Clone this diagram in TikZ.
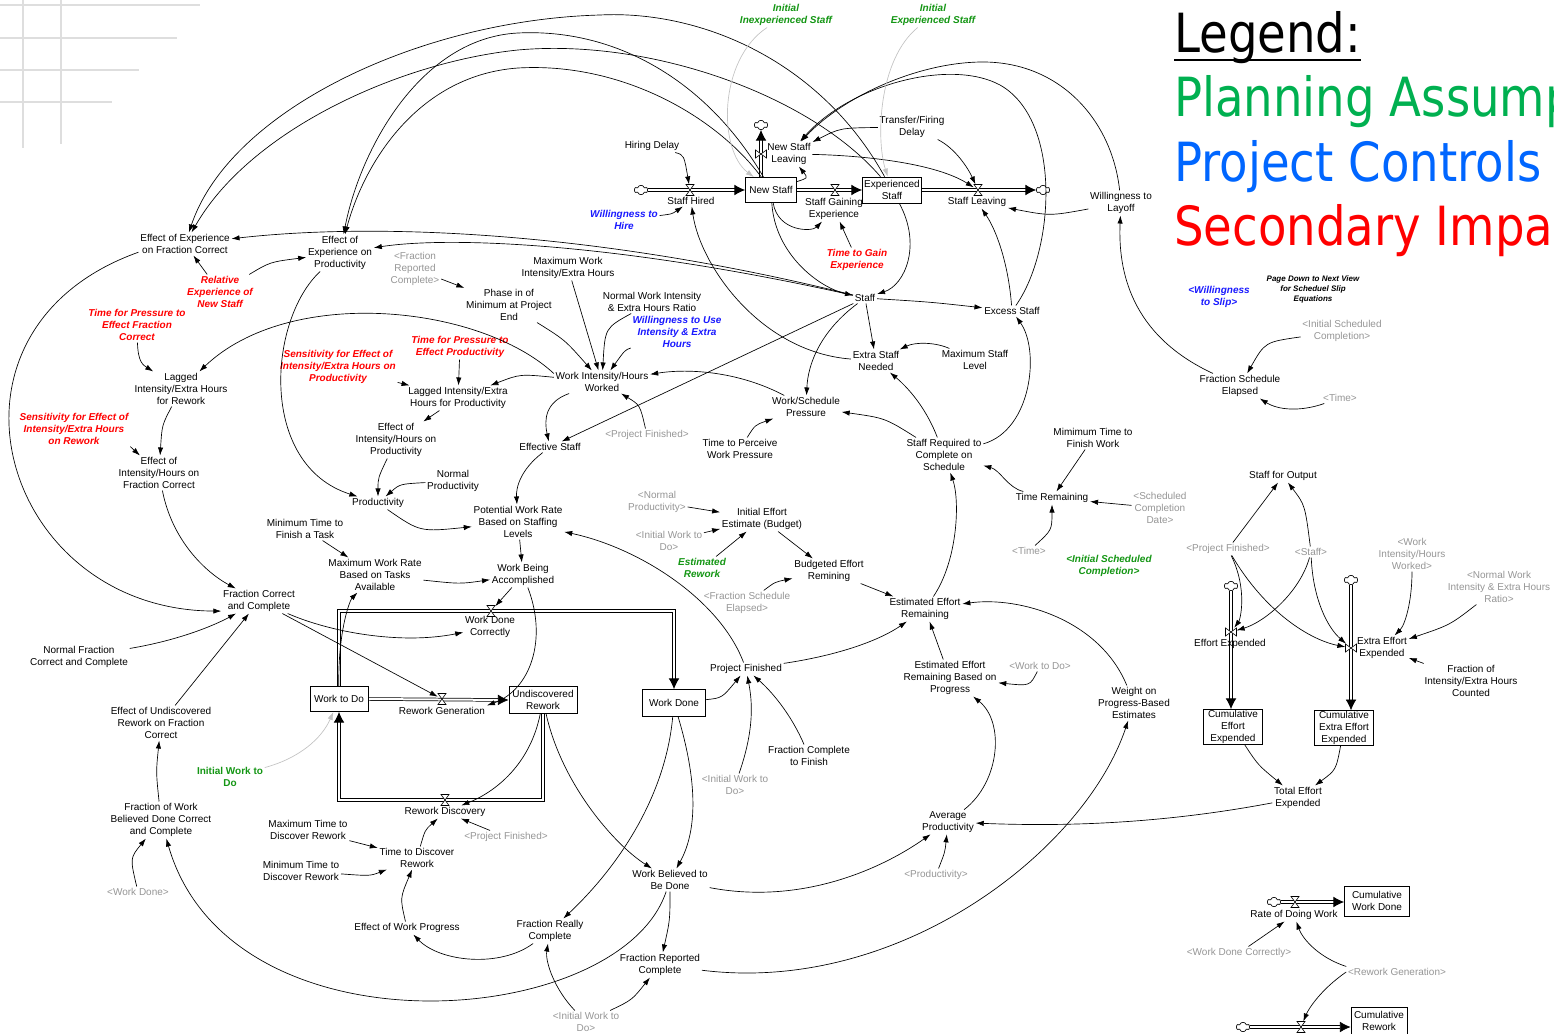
\documentclass[tikz,border=0pt]{standalone}
\usepackage{fontspec}
\usepackage{graphicx}
\setmainfont{Liberation Sans}
\newfontfamily\legfont{DejaVu Sans}
\usetikzlibrary{arrows.meta,shapes.symbols}
\definecolor{vred}{RGB}{255,0,0}
\definecolor{vblue}{RGB}{25,25,255}
\definecolor{vgreen}{RGB}{20,150,20}
\definecolor{vgray}{RGB}{150,150,150}
\definecolor{lgray}{RGB}{195,195,195}
\definecolor{gridgray}{RGB}{222,222,222}
\definecolor{leggreen}{RGB}{0,176,80}
\definecolor{legblue}{RGB}{0,102,255}
\newcommand\vnfont{\fontsize{7.5pt}{9pt}\selectfont}
\newcommand\vnsmall{\fontsize{6pt}{7.5pt}\selectfont}
\newcommand\lgfont{\legfont\fontsize{40.5pt}{48pt}\selectfont}
\tikzset{
 hvalve/.pic={\draw[fill=white,line width=0.45pt] (-4,-5.5)--(4,-5.5)--(-4,5.5)--(4,5.5)--cycle;},
 vvalve/.pic={\draw[fill=white,line width=0.45pt] (-5.5,-4)--(-5.5,4)--(5.5,-4)--(5.5,4)--cycle;}
}
\begin{document}
\begin{tikzpicture}[x=0.75pt,y=-0.75pt,
 var/.style={align=center,inner sep=1.2pt,font=\vnfont},
 shv/.style={var,text=vgray},
 redv/.style={var,text=vred,font=\vnfont\bfseries\itshape},
 bluv/.style={var,text=vblue,font=\vnfont\bfseries\itshape},
 grnv/.style={var,text=vgreen,font=\vnfont\bfseries\itshape},
 stock/.style={draw,line width=0.6pt,fill=white,align=center,inner sep=0.5pt,font=\vnfont},
 vnode/.style={inner sep=0pt,minimum width=6pt,minimum height=8pt},
 vvnode/.style={inner sep=0pt,minimum width=8pt,minimum height=6pt},
 arr/.style={draw,line width=0.5pt,-{Latex[length=6pt,width=4pt]}},
 garr/.style={arr,draw=lgray},
 flow/.style={draw,double,double distance=1.5pt,line width=0.55pt,-{Latex[length=8pt,width=8pt]}},
 cld/.style={cloud,cloud puffs=6,draw,fill=white,line width=0.4pt,minimum width=10pt,minimum height=7pt,inner sep=0pt}
]
\fill[white] (0,0) rectangle (1554,1034);
\useasboundingbox (0,0) rectangle (1554,1034);
% decoration grid
\draw[gridgray,line width=1.5pt] (0,5)--(200,5) (0,38)--(177,38) (0,70)--(139,70) (0,102)--(112,102) (23,0)--(23,148) (61,0)--(61,144);

% legend
\begin{scope}
\clip (1100,0) rectangle (1554,270);
\node[anchor=base west,inner sep=0pt,font=\lgfont] (legT) at (1174,53) {\scalebox{0.863}[1]{Legend:}};
\draw[line width=1.6pt] ([yshift=-5.2pt]legT.base west) -- ([yshift=-5.2pt]legT.base east);
\node[anchor=base west,inner sep=0pt,font=\lgfont,text=leggreen] (legA) at (1174,117) {\scalebox{0.863}[1]{Planning Assump}};
\node[anchor=base west,inner sep=0pt,font=\lgfont,text=legblue] (legB) at (1174,182) {\scalebox{0.863}[1]{Project Controls}};
\node[anchor=base west,inner sep=0pt,font=\lgfont,text=vred] (legC) at (1174,246) {\scalebox{0.863}[1]{Secondary Impa}};
\end{scope}

% ---------- stocks ----------
\node[stock,minimum width=38.3pt,minimum height=18.8pt] (ns) at (771,190) {New Staff};
\node[stock,minimum width=44.3pt,minimum height=19.5pt] (exs) at (892,190) {Experienced\\Staff};
\node[stock,minimum width=43.5pt,minimum height=18.8pt] (wtd) at (339,699) {Work to Do};
\node[stock,minimum width=51pt,minimum height=20.3pt] (ur) at (543,700) {Undiscovered\\Rework};
\node[stock,minimum width=47.3pt,minimum height=20.3pt] (wd) at (674,703) {Work Done};
\node[stock,minimum width=44.3pt,minimum height=26.3pt] (cee) at (1233,727) {Cumulative\\Effort\\Expended};
\node[stock,minimum width=44.3pt,minimum height=24pt] (ceee) at (1344,728) {Cumulative\\Extra Effort\\Expended};
\node[stock,minimum width=48.8pt,minimum height=22.5pt] (cwd) at (1377,901) {Cumulative\\Work Done};
\node[stock,minimum width=42pt,minimum height=20pt] (crw) at (1379,1021) {Cumulative\\Rework};

% clouds
\node[cld] (c1) at (641,190) {};
\node[cld] (c2) at (761,125) {};
\node[cld] (c3) at (1043,190) {};
\node[cld] (c4) at (1231,586) {};
\node[cld] (c5) at (1351,580) {};
\node[cld] (c6) at (1274,902) {};
\node[cld] (c7) at (1243,1027) {};

% valve nodes
\node[vnode] (vsh) at (690,190) {};
\node[vnode] (vsge) at (835,190) {};
\node[vnode] (vsl) at (978,190) {};
\node[vvnode] (vnsl) at (761,154) {};
\node[vnode] (vwdc) at (491,611) {};
\node[vnode] (vrg) at (442,699) {};
\node[vnode] (vrd) at (445,800) {};
\node[vvnode] (vee) at (1231,632) {};
\node[vvnode] (veee) at (1351,648) {};
\node[vnode] (vrdw) at (1295,902) {};
\node[vnode] (vcr) at (1301,1027) {};

% pipes
\draw[flow] (c1.east) -- (c1.east -| ns.west);
\draw[flow] (ns.east) -- (exs.west);
\draw[flow] (exs.east) -- (exs.east -| c3.west);
\draw[flow] (ns.north -| c2) -- (c2.south);
\draw[flow] (wtd.north) -- (wtd.north |- vwdc) -- (wd.north |- vwdc) -- (wd.north);
\draw[flow] (wtd.east) -- (ur.west);
\draw[flow] (ur.south) -- (ur.south |- vrd) -- (wtd.south |- vrd) -- (wtd.south);
\draw[flow] (c4.south) -- (c4.south |- cee.north);
\draw[flow] (c5.south) -- (c5.south |- ceee.north);
\draw[flow] (c6.east) -- (c6.east -| cwd.west);
\draw[flow] (c7.east) -- (c7.east -| crw.west);
% redraw stocks over pipes
\node[stock,minimum width=38.3pt,minimum height=18.8pt] at (ns) {New Staff};
\node[stock,minimum width=44.3pt,minimum height=19.5pt] at (exs) {Experienced\\Staff};
\node[stock,minimum width=43.5pt,minimum height=18.8pt] at (wtd) {Work to Do};
\node[stock,minimum width=51pt,minimum height=20.3pt] at (ur) {Undiscovered\\Rework};
\node[stock,minimum width=47.3pt,minimum height=20.3pt] at (wd) {Work Done};
\node[cld] at (c1) {};
\node[cld] at (c2) {};
\node[cld] at (c3) {};
\node[cld] at (c4) {};
\node[cld] at (c5) {};
\node[cld] at (c6) {};
\node[cld] at (c7) {};

% flow labels
\node[var] (lsh) at (691,201) {Staff Hired};
\node[var] (lnsl) at (789,154) {New Staff\\Leaving};
\node[var] (lsge) at (834,209) {Staff Gaining\\Experience};
\node[var] (lsl) at (977,202) {Staff Leaving};
\node[var] (lwdc) at (490,627) {Work Done\\Correctly};
\node[var] (lrg) at (442,711) {Rework Generation};
\node[var] (lrd) at (445,812) {Rework Discovery};
\node[var] (lee) at (1230,644) {Effort Expended};
\node[var] (leee) at (1382,648) {Extra Effort\\Expended};
\node[var] (lrdw) at (1294,915) {Rate of Doing Work};

% ---------- variables ----------
\node[grnv] (iis) at (786,15) {Initial\\Inexperienced Staff};
\node[grnv] (ies) at (933,15) {Initial\\Experienced Staff};
\node[var] (hd) at (652,146) {Hiring Delay};
\node[var] (tfd) at (912,127) {Transfer/Firing\\Delay};
\node[bluv] (wth) at (624,220) {Willingness to\\Hire};
\node[redv] (ttge) at (857,260) {Time to Gain\\Experience};
\node[var] (staff) at (865,298) {Staff};
\node[var] (excess) at (1012,311) {Excess Staff};
\node[var] (wtl) at (1121,203) {Willingness to\\Layoff};
\node[var] (esn) at (876,361) {Extra Staff\\Needed};
\node[var] (msl) at (975,360) {Maximum Staff\\Level};
\node[var] (eoefc) at (185,244) {Effect of Experience\\on Fraction Correct};
\node[var] (eoep) at (340,253) {Effect of\\Experience on\\Productivity};
\node[shv] (sfrc) at (415,269) {<Fraction\\Reported\\Complete>};
\node[redv] (rens) at (220,292) {Relative\\Experience of\\New Staff};
\node[redv] (tpefc) at (137,325) {Time for Pressure to\\Effect Fraction\\Correct};
\node[var] (phase) at (509,305) {Phase in of\\Minimum at Project\\End};
\node[var] (mwi) at (568,268) {Maximum Work\\Intensity/Extra Hours};
\node[var] (nwi) at (652,302) {Normal Work Intensity\\\& Extra Hours Ratio};
\node[bluv] (wtu) at (677,332) {Willingness to Use\\Intensity \& Extra\\Hours};
\node[redv] (tpep) at (460,347) {Time for Pressure to\\Effect Productivity};
\node[redv] (sensp) at (338,367) {Sensitivity for Effect of\\Intensity/Extra Hours on\\Productivity};
\node[var] (wih) at (602,382) {Work Intensity/Hours\\Worked};
\node[var] (lagp) at (458,398) {Lagged Intensity/Extra\\Hours for Productivity};
\node[var] (lagr) at (181,389) {Lagged\\Intensity/Extra Hours\\for Rework};
\node[redv] (sensr) at (74,429) {Sensitivity for Effect of\\Intensity/Extra Hours\\on Rework};
\node[var] (eihfc) at (159,473) {Effect of\\Intensity/Hours on\\Fraction Correct};
\node[var] (eihp) at (396,440) {Effect of\\Intensity/Hours on\\Productivity};
\node[var] (np) at (453,481) {Normal\\Productivity};
\node[var] (prod) at (378,503) {Productivity};
\node[var] (effst) at (550,447) {Effective Staff};
\node[shv] (spf1) at (647,435) {<Project Finished>};
\node[var] (wsp) at (806,407) {Work/Schedule\\Pressure};
\node[var] (ttp) at (740,449) {Time to Perceive\\Work Pressure};
\node[var] (srcs) at (944,455) {Staff Required to\\Complete on\\Schedule};
\node[var] (pwr) at (518,522) {Potential Work Rate\\Based on Staffing\\Levels};
\node[var] (mtft) at (305,529) {Minimum Time to\\Finish a Task};
\node[var] (mwr) at (375,575) {Maximum Work Rate\\Based on Tasks\\Available};
\node[var] (wba) at (523,575) {Work Being\\Accomplished};
\node[var] (fcc) at (259,601) {Fraction Correct\\and Complete};
\node[var] (nfcc) at (79,657) {Normal Fraction\\Correct and Complete};
\node[shv] (snp) at (657,502) {<Normal\\Productivity>};
\node[var] (ieeb) at (762,519) {Initial Effort\\Estimate (Budget)};
\node[shv] (siwd1) at (669,541) {<Initial Work to\\Do>};
\node[grnv] (er) at (702,568) {Estimated\\Rework};
\node[var] (ber) at (829,571) {Budgeted Effort\\Remining};
\node[shv] (sfse) at (747,603) {<Fraction Schedule\\Elapsed>};
\node[var] (eer) at (925,609) {Estimated Effort\\Remaining};
\node[var] (pf) at (746,669) {Project Finished};
\node[var] (eerbp) at (950,678) {Estimated Effort\\Remaining Based on\\Progress};
\node[shv] (swtd) at (1040,666) {<Work to Do>};
\node[var] (wope) at (1134,703) {Weight on\\Progress-Based\\Estimates};
\node[var] (fctf) at (809,756) {Fraction Complete\\to Finish};
\node[shv] (siwd2) at (735,785) {<Initial Work to\\Do>};
\node[var] (avgp) at (948,822) {Average\\Productivity};
\node[shv] (sprod) at (936,875) {<Productivity>};
\node[var] (wbbd) at (670,880) {Work Believed to\\Be Done};
\node[var] (frc) at (550,931) {Fraction Really\\Complete};
\node[var] (frpc) at (660,965) {Fraction Reported\\Complete};
\node[shv] (siwd3) at (586,1022) {<Initial Work to\\Do>};
\node[var] (mxtdr) at (308,830) {Maximum Time to\\Discover Rework};
\node[var] (ttdr) at (417,858) {Time to Discover\\Rework};
\node[var] (mntdr) at (301,871) {Minimum Time to\\Discover Rework};
\node[shv] (spf2) at (506,837) {<Project Finished>};
\node[var] (ewp) at (407,928) {Effect of Work Progress};
\node[var] (iwd) at (230,777) {\bfseries\color{vgreen}Initial Work to\\\bfseries\color{vgreen}Do};
\node[var] (eurfc) at (161,723) {Effect of Undiscovered\\Rework on Fraction\\Correct};
\node[var] (fwbd) at (161,820) {Fraction of Work\\Believed Done Correct\\and Complete};
\node[shv] (swd) at (138,892) {<Work Done>};
% right part
\node[bluv] (swts) at (1219,297) {<Willingness\\to Slip>};
\node[var,font=\vnsmall\bfseries\itshape] (pdn) at (1313,289) {Page Down to Next View\\for Scheduel Slip\\Equations};
\node[shv] (sisc) at (1342,331) {<Initial Scheduled\\Completion>};
\node[var] (fse) at (1240,386) {Fraction Schedule\\Elapsed};
\node[shv] (stime1) at (1340,398) {<Time>};
\node[var] (mtfw) at (1093,438) {Mimimum Time to\\Finish Work};
\node[var] (tr) at (1052,498) {Time Remaining};
\node[shv] (sscd) at (1160,508) {<Scheduled\\Completion\\Date>};
\node[shv] (stime2) at (1029,551) {<Time>};
\node[grnv] (gisc) at (1109,566) {<Initial Scheduled\\Completion>};
\node[var] (sfo) at (1283,476) {Staff for Output};
\node[shv] (spf3) at (1228,549) {<Project Finished>};
\node[shv] (sstaff) at (1311,552) {<Staff>};
\node[shv] (swih) at (1412,554) {<Work\\Intensity/Hours\\Worked>};
\node[shv] (snwi) at (1499,587) {<Normal Work\\Intensity \& Extra Hours\\Ratio>};
\node[var] (fic) at (1471,681) {Fraction of\\Intensity/Extra Hours\\Counted};
\node[var] (tee) at (1298,798) {Total Effort\\Expended};
\node[shv] (swdc) at (1239,953) {<Work Done Correctly>};
\node[shv] (srg) at (1397,972) {<Rework Generation>};

% ---------- connectors ----------
% staff sector
\draw[arr] (hd) .. controls (684,155) .. (vsh);
\draw[arr] (wth) .. controls (672,214) .. (lsh);
\draw[arr] (esn) .. controls (760,352) and (700,265) .. (lsh);
\draw[arr] (ns) .. controls (778,232) and (812,232) .. (lsge);
\draw[arr] (ttge) -- (lsge);
\draw[arr] (ns) .. controls (808,178) .. (lnsl);
\draw[arr] (tfd) .. controls (840,128) .. (lnsl);
\draw[arr] (tfd) .. controls (955,148) and (968,168) .. (vsl);
\draw[arr] (lnsl) .. controls (845,155) and (930,160) .. (vsl);
\draw[arr] (excess) .. controls (1055,250) and (1062,120) .. (1000,85) .. controls (950,58) and (850,85) .. (lnsl);
\draw[arr] (wtl) .. controls (1112,120) and (1060,62) .. (983,62) .. controls (920,62) and (845,95) .. (lnsl);
\draw[arr] (wtl) .. controls (1050,216) .. (lsl);
\draw[arr] (excess) .. controls (1008,260) and (995,228) .. (lsl);
\draw[arr] (staff) .. controls (930,302) .. (excess);
\draw[arr] (staff) -- (esn);
\draw[arr] (msl) .. controls (935,342) and (915,342) .. (esn);
\draw[arr] (srcs) .. controls (925,405) and (905,385) .. (esn);
\draw[arr] (srcs) .. controls (885,418) .. (wsp);
\draw[arr] (srcs) .. controls (1032,430) and (1040,350) .. (excess);
\draw[arr] (eer) .. controls (958,560) and (960,500) .. (srcs);
\draw[arr] (tr) .. controls (1008,488) and (1000,470) .. (srcs);
\draw[arr] (mtfw) -- (tr);
\draw[arr] (sscd) -- (tr);
\draw[arr] (stime2) .. controls (1052,530) .. (tr);
\draw[arr] (ns) .. controls (775,255) and (820,288) .. (staff);
\draw[arr] (exs) .. controls (922,245) and (905,285) .. (staff);
\draw[arr] (staff) .. controls (822,330) and (808,362) .. (wsp);
\draw[arr] (ttp) .. controls (755,425) .. (wsp);
\draw[arr] (staff) -- (effst);
\draw[arr] (staff) .. controls (600,232) and (380,222) .. (eoefc);
\draw[arr] (staff) .. controls (620,243) and (450,236) .. (eoep);
\draw[arr] (exs) .. controls (820,60) and (700,10) .. (600,15) .. controls (420,20) and (230,110) .. (eoefc);
\draw[arr] (exs) .. controls (810,95) and (650,38) .. (518,50) .. controls (400,62) and (250,130) .. (eoefc);
\draw[arr] (ns) .. controls (710,85) and (620,28) .. (518,33) .. controls (420,38) and (360,150) .. (eoep);
\draw[arr] (ns) .. controls (715,115) and (620,62) .. (518,68) .. controls (420,75) and (365,160) .. (eoep);
\draw[garr] (iis) .. controls (718,60) and (718,150) .. (ns);
\draw[garr] (ies) .. controls (878,60) and (876,140) .. (exs);
% experience and intensity
\draw[arr] (rens) -- (eoefc);
\draw[arr] (rens) .. controls (270,262) .. (eoep);
\draw[arr] (sfrc) -- (phase);
\draw[arr] (phase) .. controls (565,340) .. (wih);
\draw[arr] (mwi) -- (wih);
\draw[arr] (nwi) .. controls (605,328) .. (wih);
\draw[arr] (wtu) .. controls (625,350) .. (wih);
\draw[arr] (wsp) .. controls (740,372) and (690,368) .. (wih);
\draw[arr] (spf1) .. controls (640,405) .. (wih);
\draw[arr] (wih) .. controls (545,402) and (544,420) .. (effst);
\draw[arr] (wih) .. controls (520,374) .. (lagp);
\draw[arr] (wih.170) .. controls (480,305) and (290,285) .. (lagr);
\draw[arr] (tpep) -- (lagp);
\draw[arr] (sensp) -- (lagp);
\draw[arr] (lagp) -- (eihp);
\draw[arr] (eihp) .. controls (378,478) .. (prod);
\draw[arr] (np) .. controls (400,484) .. (prod);
\draw[arr] (eoep) .. controls (268,320) and (258,465) .. (prod);
\draw[arr] (prod) .. controls (420,532) .. (pwr);
\draw[arr] (effst) .. controls (520,470) and (516,488) .. (pwr);
\draw[arr] (pf) .. controls (720,600) and (640,548) .. (pwr);
\draw[arr] (pwr) -- (wba);
\draw[arr] (mwr) .. controls (460,584) .. (wba);
\draw[arr] (mtft) -- (mwr);
\draw[arr] (wtd) .. controls (338,630) and (350,600) .. (mwr);
\draw[arr] (wba) -- (vwdc);
\draw[arr] (wba) .. controls (548,640) and (530,690) .. (lrg.north east);
\draw[arr] (fcc) .. controls (330,632) and (400,645) .. (lwdc);
\draw[arr] (fcc) -- (vrg);
\draw[arr] (eoefc.190) .. controls (-80,330) and (0,610) .. (fcc.195);
\draw[arr] (eihfc) .. controls (172,540) and (205,572) .. (fcc);
\draw[arr] (lagr) .. controls (162,425) .. (eihfc);
\draw[arr] (sensr.south east) -- (eihfc);
\draw[arr] (tpefc) .. controls (138,362) and (143,365) .. (lagr);
\draw[arr] (nfcc) .. controls (180,640) and (215,625) .. (fcc);
\draw[arr] (eurfc) -- (fcc);
\draw[arr] (fwbd) .. controls (156,772) .. (eurfc);
\draw[arr] (swd) .. controls (130,858) .. (fwbd);
\draw[arr] (wbbd) .. controls (620,1030) and (230,1060) .. (fwbd);
\draw[garr] (iwd) .. controls (300,758) and (322,738) .. (wtd);
% rework discovery
\draw[arr] (frc) .. controls (500,968) and (440,962) .. (ewp);
\draw[arr] (ewp) .. controls (400,898) .. (ttdr);
\draw[arr] (mxtdr) -- (ttdr);
\draw[arr] (mntdr) .. controls (370,876) .. (ttdr);
\draw[arr] (ttdr) .. controls (425,830) .. (lrd);
\draw[arr] (spf2) -- (lrd);
\draw[arr] (ur) .. controls (530,765) and (495,792) .. (lrd);
\draw[arr] (ur) .. controls (562,785) and (615,845) .. (wbbd);
\draw[arr] (wd) .. controls (700,790) and (695,835) .. (wbbd);
\draw[arr] (wd) .. controls (665,800) and (615,870) .. (frc);
\draw[arr] (wd) .. controls (722,698) .. (pf);
\draw[arr] (wbbd) .. controls (670,920) .. (frpc);
\draw[arr] (wbbd) .. controls (800,905) and (880,870) .. (avgp);
\draw[arr] (siwd3) .. controls (555,990) and (545,962) .. (frc);
\draw[arr] (siwd3) .. controls (632,1000) .. (frpc);
% effort estimates
\draw[arr] (frpc) .. controls (900,995) and (1085,850) .. (wope);
\draw[arr] (wope) .. controls (1100,620) and (1020,596) .. (eer);
\draw[arr] (eerbp) -- (eer);
\draw[arr] (swtd) .. controls (1030,686) .. (eerbp);
\draw[arr] (avgp) .. controls (1000,782) and (1005,722) .. (eerbp);
\draw[arr] (sprod) .. controls (945,852) .. (avgp);
\draw[arr] (tee) .. controls (1150,826) and (1050,826) .. (avgp);
\draw[arr] (ber) -- (eer);
\draw[arr] (sfse) .. controls (775,582) .. (ber);
\draw[arr] (ieeb) -- (ber);
\draw[arr] (snp) -- (ieeb);
\draw[arr] (siwd1) -- (ieeb);
\draw[arr] (er) -- (ieeb);
\draw[arr] (pf) .. controls (840,655) and (880,640) .. (eer);
\draw[arr] (siwd2) .. controls (755,728) and (752,700) .. (pf);
\draw[arr] (fctf) .. controls (790,712) and (770,690) .. (pf);
% effort expended
\draw[arr] (spf3) -- (sfo);
\draw[arr] (sstaff) .. controls (1305,505) .. (sfo);
\draw[arr] (spf3) .. controls (1248,590) and (1240,620) .. (vee);
\draw[arr] (spf3) .. controls (1265,612) and (1310,640) .. (veee);
\draw[arr] (sstaff) .. controls (1300,592) and (1265,622) .. (vee);
\draw[arr] (sstaff) .. controls (1313,600) and (1328,628) .. (veee);
\draw[arr] (swih) .. controls (1412,602) and (1405,625) .. (leee);
\draw[arr] (snwi) .. controls (1450,625) .. (leee);
\draw[arr] (fic) -- (leee);
\draw[arr] (cee) .. controls (1258,765) .. (tee);
\draw[arr] (ceee) .. controls (1336,770) .. (tee);
\draw[arr] (swdc) -- (lrdw);
\draw[arr] (srg.north west) .. controls (1320,958) and (1303,940) .. (lrdw);
\draw[arr] (srg.west) .. controls (1320,990) and (1308,1010) .. (vcr);
% schedule
\draw[arr] (sisc) .. controls (1265,342) .. (fse);
\draw[arr] (stime1) .. controls (1300,412) and (1278,410) .. (fse);
\draw[arr] (fse) .. controls (1130,335) and (1118,270) .. (wtl);

% valves on top
\pic at (vsh) {hvalve};
\pic at (vsge) {hvalve};
\pic at (vsl) {hvalve};
\pic at (vnsl) {vvalve};
\pic at (vwdc) {hvalve};
\pic at (vrg) {hvalve};
\pic at (vrd) {hvalve};
\pic at (vee) {vvalve};
\pic at (veee) {vvalve};
\pic at (vrdw) {hvalve};
\pic at (vcr) {hvalve};
\end{tikzpicture}
\end{document}
